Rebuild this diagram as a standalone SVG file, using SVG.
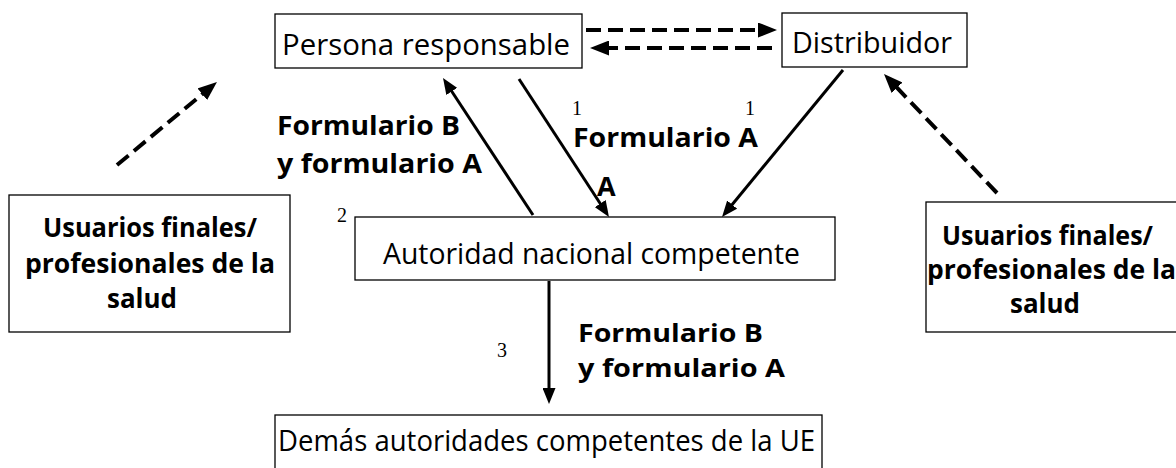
<svg xmlns="http://www.w3.org/2000/svg" width="1176" height="468" viewBox="0 0 1176 468">
<style>
.box{fill:#fff;stroke:#000;stroke-width:1.3}
.t{font-family:"Open Sans","Noto Sans","Liberation Sans",sans-serif;font-size:29px;fill:#000}
.b{font-family:"Open Sans","Noto Sans","Liberation Sans",sans-serif;font-size:27px;font-weight:bold;fill:#000}
.bs{font-family:"Open Sans","Noto Sans","Liberation Sans",sans-serif;font-size:25px;font-weight:bold;fill:#000}
.u{font-family:"Open Sans","Noto Sans","Liberation Sans",sans-serif;font-size:26px;font-weight:bold;fill:#000}
.n{font-family:"Liberation Serif",serif;font-size:20px;fill:#000}
.sol{stroke:#000;stroke-width:3;fill:none}
.dash{stroke:#000;stroke-width:4;fill:none;stroke-dasharray:15 7}
</style>
<defs>
<marker id="ah" markerWidth="16" markerHeight="13" refX="8" refY="6.5" orient="auto" markerUnits="userSpaceOnUse">
<path d="M0,0 L16,6.5 L0,13 Z" fill="#000"/>
</marker>
<marker id="ahd" markerWidth="19" markerHeight="15" refX="11" refY="7.5" orient="auto" markerUnits="userSpaceOnUse">
<path d="M0,0 L19,7.5 L0,15 Z" fill="#000"/>
</marker>
</defs>
<rect width="1176" height="468" fill="#fff"/>
<g id="connectors">
<line class="dash" x1="586" y1="30" x2="769" y2="30" marker-end="url(#ahd)"/>
<line class="dash" x1="772" y1="48" x2="598" y2="48" marker-end="url(#ahd)"/>
<line class="dash" x1="117" y1="165" x2="210.8" y2="87.1" marker-end="url(#ahd)"/>
<line class="dash" x1="997" y1="193" x2="889.5" y2="79.8" marker-end="url(#ahd)"/>
<line class="sol" x1="533" y1="215" x2="447.4" y2="84.7" marker-end="url(#ah)"/>
<line class="sol" x1="519" y1="79" x2="604.6" y2="210.3" marker-end="url(#ah)"/>
<line class="sol" x1="843" y1="70" x2="727.1" y2="210.8" marker-end="url(#ah)"/>
<line class="sol" x1="549" y1="281" x2="549" y2="396" marker-end="url(#ah)"/>
</g>
<g id="labels">
<text class="b" x="277" y="135" textLength="183" lengthAdjust="spacingAndGlyphs">Formulario B</text>
<text class="b" x="277" y="173" textLength="205" lengthAdjust="spacingAndGlyphs">y formulario A</text>
<text class="n" x="572" y="115">1</text>
<text class="n" x="745" y="115">1</text>
<text class="b" x="573" y="147" textLength="185" lengthAdjust="spacingAndGlyphs">Formulario A</text>
<text class="b" x="597" y="196">A</text>
<text class="n" x="337" y="222">2</text>
<text class="n" x="497" y="357">3</text>
<text class="bs" x="578" y="342" textLength="185" lengthAdjust="spacingAndGlyphs">Formulario B</text>
<text class="bs" x="578" y="377" textLength="207" lengthAdjust="spacingAndGlyphs">y formulario A</text>
</g>
<g id="persona">
<rect class="box" x="275" y="14" width="307" height="54"/>
<text class="t" x="282" y="55" textLength="288" lengthAdjust="spacingAndGlyphs">Persona responsable</text>
</g>
<g id="distribuidor">
<rect class="box" x="782" y="13" width="185" height="54"/>
<text class="t" x="792" y="53" textLength="160" lengthAdjust="spacingAndGlyphs">Distribuidor</text>
</g>
<g id="usuarios-izq">
<rect class="box" x="9" y="195" width="281" height="137"/>
<text class="u" x="43" y="237" textLength="214" lengthAdjust="spacingAndGlyphs">Usuarios finales/</text>
<text class="u" x="25" y="273" textLength="250" lengthAdjust="spacingAndGlyphs">profesionales de la</text>
<text class="u" x="107" y="308" textLength="70" lengthAdjust="spacingAndGlyphs">salud</text>
</g>
<g id="usuarios-der">
<rect class="box" x="926" y="202" width="260" height="130"/>
<text class="u" x="942" y="245" textLength="211" lengthAdjust="spacingAndGlyphs">Usuarios finales/</text>
<text class="u" x="927" y="279" textLength="249" lengthAdjust="spacingAndGlyphs">profesionales de la</text>
<text class="u" x="1010" y="313" textLength="70" lengthAdjust="spacingAndGlyphs">salud</text>
</g>
<g id="autoridad">
<rect class="box" x="355" y="217" width="480" height="63"/>
<text class="t" x="383" y="264" textLength="417" lengthAdjust="spacingAndGlyphs">Autoridad nacional competente</text>
</g>
<g id="demas">
<rect class="box" x="275" y="415" width="547" height="70"/>
<text class="t" x="278" y="451" textLength="537" lengthAdjust="spacingAndGlyphs">Demás autoridades competentes de la UE</text>
</g>
</svg>
